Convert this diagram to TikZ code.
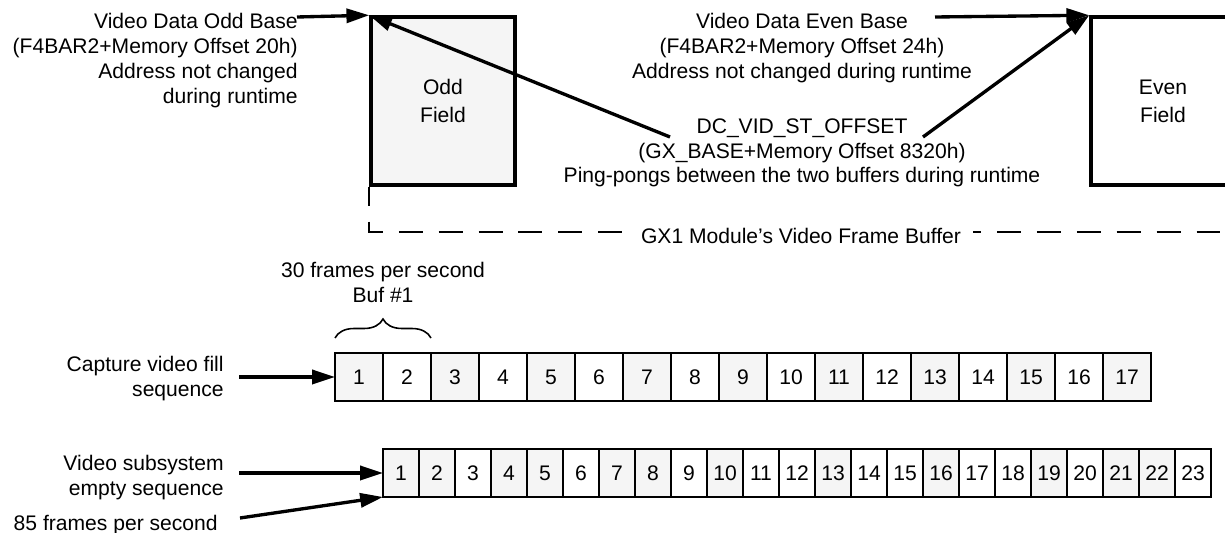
\documentclass[tikz,border=0pt]{standalone}
\usepackage{fontspec}
\setmainfont{Liberation Sans}
\usepackage{xcolor}
\usepackage{tikz}
\usetikzlibrary{decorations.pathreplacing}
\usetikzlibrary{arrows.meta}
\definecolor{F0}{RGB}{245,245,245}

\tikzset{
    lbl/.style={font=\fontsize{12}{14.2}\selectfont, inner sep=0pt},
    fieldbox/.style={draw, line width=2pt, minimum width=2.88cm, minimum height=3.36cm,
        align=center, font=\fontsize{12}{15.9}\selectfont},
    capcell/.style={draw, line width=1.3pt, minimum width=0.96cm, minimum height=0.96cm,
        inner sep=0pt, outer sep=0pt, font=\fontsize{12}{14}\selectfont},
    empcell/.style={capcell, minimum width=0.72cm},
    ptr/.style={line width=1.9pt, -{Triangle[length=13pt, width=8pt]}},
}

\begin{document}
\begin{tikzpicture}[x=0.02cm, y=-0.02cm]
    \useasboundingbox (0,0) rectangle (1225,533);
    \clip (0,0) rectangle (1225,533);

    %% --- Frame buffer fields ---
    \node[fieldbox, fill=F0] (odd)  at (443,101) {Odd\\Field};
    \node[fieldbox]          (even) at (1163,101) {Even\\Field};

    %% Dashed outline of the frame buffer
    \draw[line width=1.2pt, dash pattern=on 13.6pt off 9.1pt, dash phase=2.8pt]
        (odd.south west) |- (1240,232);
    \node[lbl, fill=white, inner xsep=7pt, inner ysep=2pt] (gxlbl) at (801,236)
        {GX1 Module's Video Frame Buffer};

    %% --- Pointer labels ---
    \node[lbl, align=right, anchor=north east] (oddlbl) at (298,13)
        {Video Data Odd Base\\(F4BAR2+Memory Offset 20h)\\Address not changed\\during runtime};
    \node[lbl, align=center, anchor=north] (evenlbl) at (802,13)
        {Video Data Even Base\\(F4BAR2+Memory Offset 24h)\\Address not changed during runtime};
    \node[lbl, align=center, anchor=north] (dclbl) at (802,118)
        {DC\_VID\_ST\_OFFSET\\(GX\_BASE+Memory Offset 8320h)\\Ping-pongs between the two buffers during runtime};

    %% Pointer start points
    \coordinate (oddsrc)  at (297,17);
    \coordinate (evensrc) at (935,17);
    \coordinate (dcodd)   at (670,137);
    \coordinate (dceven)  at (923,137);

    \draw[ptr] (oddsrc)  -- (odd.north west);
    \draw[ptr] (dcodd)   -- (odd.north west);
    \draw[ptr] (evensrc) -- (even.north west);
    \draw[ptr] (dceven)  -- (even.north west);

    %% --- Capture video fill sequence (30 fps) ---
    \foreach \i in {1,...,17} {
        \pgfmathtruncatemacro{\sh}{mod(\i,2)}
        \ifnum\sh=1 \def\fc{F0}\else\def\fc{white}\fi
        \node[capcell, fill=\fc] (c\i) at ({359+48*(\i-1)},377) {\i};
    }

    %% --- Video subsystem empty sequence (85 fps) ---
    \foreach \i/\fc in {1/F0, 2/F0, 3/white, 4/F0, 5/F0, 6/white, 7/F0, 8/F0,
                        9/white, 10/F0, 11/white, 12/white, 13/F0, 14/white,
                        15/white, 16/F0, 17/white, 18/white, 19/F0, 20/white,
                        21/F0, 22/F0, 23/white} {
        \node[empcell, fill=\fc] (e\i) at ({401+36*(\i-1)},473) {\i};
    }

    %% Buffer brace
    \draw[line width=0.9pt, decorate, decoration={brace, amplitude=0.38cm}]
        ([yshift=0.3cm]c1.north west) -- ([yshift=0.3cm]c2.north east);
    \node[lbl, align=center, anchor=north] (buflbl) at (383,262)
        {30 frames per second\\Buf \#1};

    %% --- Row labels ---
    \node[lbl, align=right, anchor=north east] (caplbl) at (224,356)
        {Capture video fill\\sequence};
    \node[lbl, align=right, anchor=north east] (vidlbl) at (224,455)
        {Video subsystem\\empty sequence};
    \node[lbl, anchor=north east] (fpslbl) at (218,515) {85 frames per second};

    \coordinate (capsrc) at (239,377);
    \coordinate (vidsrc) at (239,473);
    \coordinate (fpssrc) at (240,518);

    \draw[ptr] (capsrc) -- (c1.west);
    \draw[ptr] (vidsrc) -- (e1.west);
    \draw[ptr] (fpssrc) -- (e1.south west);

\end{tikzpicture}
\end{document}
